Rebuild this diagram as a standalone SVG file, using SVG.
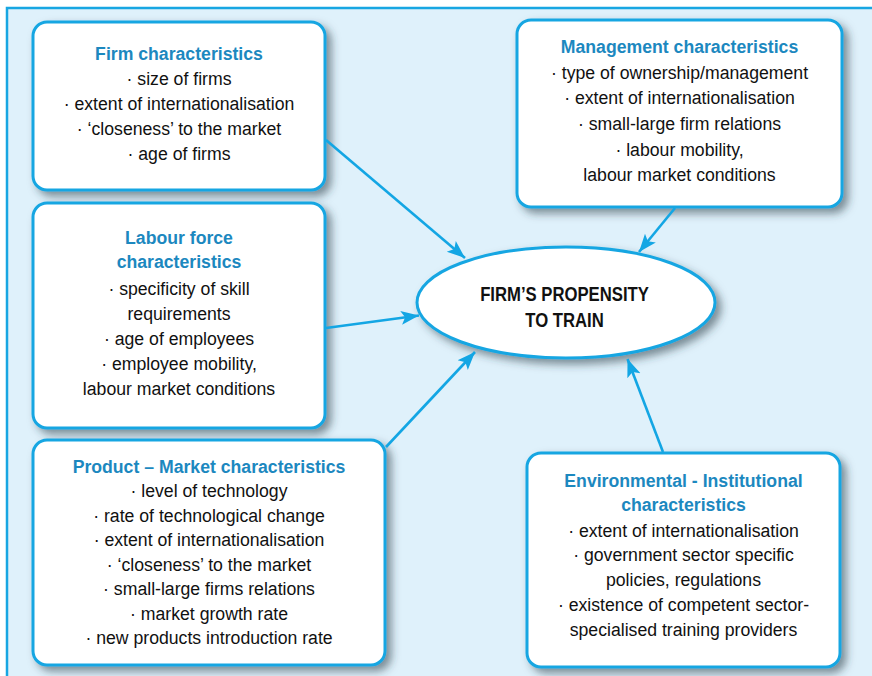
<svg xmlns="http://www.w3.org/2000/svg" width="872" height="676" viewBox="0 0 872 676">
<defs>
<filter id="sh" x="-10%" y="-10%" width="125%" height="130%">
<feDropShadow dx="5" dy="5" stdDeviation="4" flood-color="#2a3a44" flood-opacity="0.55"/>
</filter>
<marker id="ah" markerUnits="userSpaceOnUse" markerWidth="20" markerHeight="20" viewBox="0 0 20 20" refX="18" refY="10" orient="auto">
<path d="M0,3 L18,10 L0,17 L4,10 Z" fill="#13a6e4"/>
</marker>
</defs>
<style>
.box{fill:#ffffff;stroke:#17a6e2;stroke-width:3;filter:url(#sh)}
.t{font-family:"Liberation Sans",Arial,sans-serif;font-size:19px;fill:#111;text-anchor:middle}
.h{font-weight:bold;fill:#1c88bf}
.e{font-family:"Liberation Sans",Arial,sans-serif;font-size:20px;font-weight:bold;fill:#111;text-anchor:middle}
.c{stroke:#13a6e4;stroke-width:2.6;fill:none;marker-end:url(#ah)}
</style>
<rect x="0" y="0" width="872" height="676" fill="#ffffff"/>
<rect x="7" y="8" width="865" height="668" fill="#dff1fb"/>
<path d="M7,676 L7,8 L872,8" fill="none" stroke="#17a6e2" stroke-width="2.5"/>

<g id="firm">
<rect class="box" x="33" y="22" width="292" height="168" rx="14"/>
<g transform="translate(179,0) scale(0.93,1)">
<text class="t h" x="0" y="60">Firm characteristics</text>
<text class="t" x="0" y="85">· size of firms</text>
<text class="t" x="0" y="110">· extent of internationalisation</text>
<text class="t" x="0" y="135">· ‘closeness’ to the market</text>
<text class="t" x="0" y="160">· age of firms</text>
</g>
</g>

<g id="labour">
<rect class="box" x="33" y="203" width="292" height="225" rx="14"/>
<g transform="translate(179,0) scale(0.93,1)">
<text class="t h" x="0" y="244">Labour force</text>
<text class="t h" x="0" y="268.5">characteristics</text>
<text class="t" x="0" y="295">· specificity of skill</text>
<text class="t" x="0" y="320">requirements</text>
<text class="t" x="0" y="345.5">· age of employees</text>
<text class="t" x="0" y="370.5">· employee mobility,</text>
<text class="t" x="0" y="395.5">labour market conditions</text>
</g>
</g>

<g id="product">
<rect class="box" x="33" y="440" width="352" height="225" rx="14"/>
<g transform="translate(209,0) scale(0.93,1)">
<text class="t h" x="0" y="473">Product – Market characteristics</text>
<text class="t" x="0" y="497.5">· level of technology</text>
<text class="t" x="0" y="522">· rate of technological change</text>
<text class="t" x="0" y="546.5">· extent of internationalisation</text>
<text class="t" x="0" y="571">· ‘closeness’ to the market</text>
<text class="t" x="0" y="595.5">· small-large firms relations</text>
<text class="t" x="0" y="620">· market growth rate</text>
<text class="t" x="0" y="644">· new products introduction rate</text>
</g>
</g>

<g id="management">
<rect class="box" x="517" y="20" width="325" height="187" rx="14"/>
<g transform="translate(679.5,0) scale(0.93,1)">
<text class="t h" x="0" y="53.5">Management characteristics</text>
<text class="t" x="0" y="79.5">· type of ownership/management</text>
<text class="t" x="0" y="104.5">· extent of internationalisation</text>
<text class="t" x="0" y="130">· small-large firm relations</text>
<text class="t" x="0" y="156">· labour mobility,</text>
<text class="t" x="0" y="181">labour market conditions</text>
</g>
</g>

<g id="environmental">
<rect class="box" x="527" y="453" width="313" height="214" rx="14"/>
<g transform="translate(683.5,0) scale(0.93,1)">
<text class="t h" x="0" y="487">Environmental - Institutional</text>
<text class="t h" x="0" y="511.5">characteristics</text>
<text class="t" x="0" y="537">· extent of internationalisation</text>
<text class="t" x="0" y="561.5">· government sector specific</text>
<text class="t" x="0" y="586.5">policies, regulations</text>
<text class="t" x="0" y="611.5">· existence of competent sector-</text>
<text class="t" x="0" y="636.5">specialised training providers</text>
</g>
</g>

<g id="propensity">
<ellipse class="box" cx="566" cy="302.5" rx="149" ry="55.5"/>
<g transform="translate(564.5,0) scale(0.835,1)">
<text class="e" x="0" y="301.5">FIRM’S PROPENSITY</text>
<text class="e" x="0" y="327.5">TO TRAIN</text>
</g>
</g>

<g id="connectors">
<line class="c" x1="326" y1="140" x2="465" y2="258"/>
<line class="c" x1="326" y1="328" x2="419" y2="315.5"/>
<line class="c" x1="386" y1="447" x2="475" y2="352"/>
<line class="c" x1="675" y1="208" x2="639" y2="252"/>
<line class="c" x1="663" y1="452" x2="627.5" y2="359"/>
</g>
</svg>
